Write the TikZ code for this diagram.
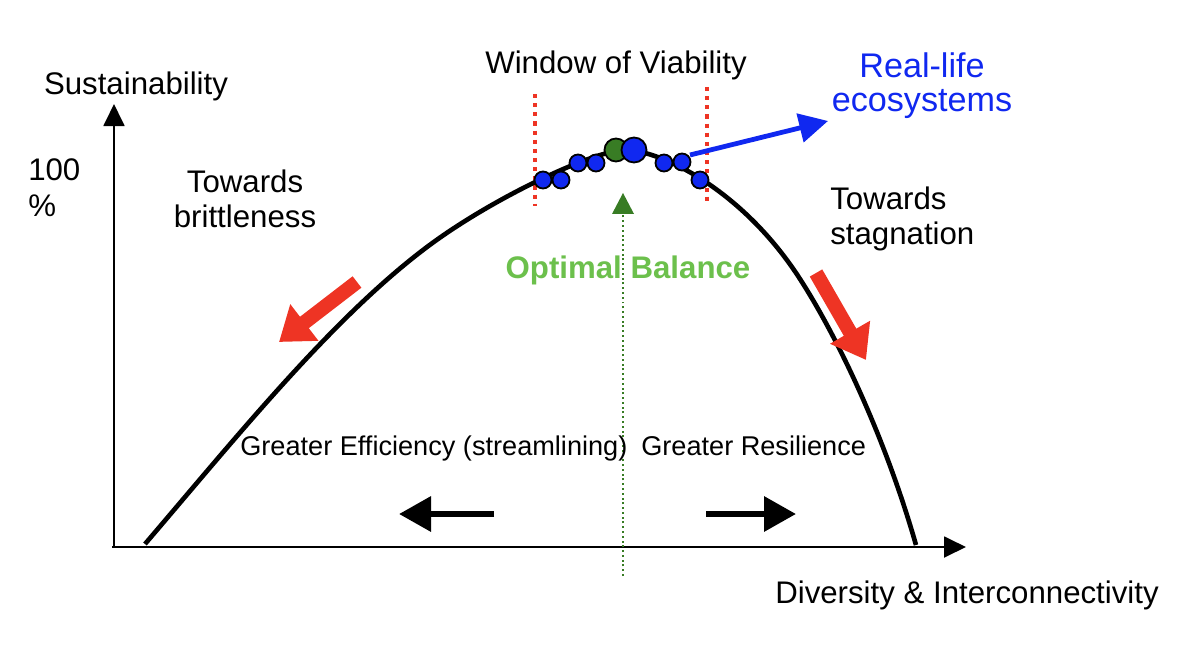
\documentclass[tikz,border=0pt]{standalone}
\usepackage{fontspec}
\setmainfont{Liberation Sans}
\usetikzlibrary{arrows.meta}
\definecolor{trendred}{RGB}{238,52,36}
\definecolor{ecoblue}{RGB}{16,40,240}
\definecolor{optgreen}{RGB}{56,124,36}
\definecolor{optlight}{RGB}{108,192,76}

\begin{document}
\begin{tikzpicture}[x=0.025cm,y=-0.025cm,
lbl/.style={font=\fontsize{22.2}{24.2}\selectfont,align=center,inner sep=0pt,anchor=base},
small/.style={lbl,font=\fontsize{19.3}{22}\selectfont,anchor=base west},
axis/.style={line width=1.8pt,-{Triangle[length=0.55cm,width=0.52cm]}},
eco/.style={draw=black,line width=1.3pt,fill=ecoblue},
window/.style={trendred,line width=3pt,dash pattern=on 3pt off 3.5pt},
fat/.style={trendred,line width=0.36cm,-{Triangle[length=0.8cm,width=1.1cm]}},
drift/.style={line width=0.16cm,-{Triangle[length=0.8cm,width=0.85cm]}}]
\useasboundingbox (0,0) rectangle (1200,649);
% axes
\coordinate (origin) at (114,547);
\draw[axis] (origin) ++(-2,0) -- (966,547);
\draw[axis] (origin) ++(0,1) -- (114,104);
\node[lbl] (ylab) at (136,95) {Sustainability};
\node[lbl,align=left,anchor=base west,font=\fontsize{22.2}{26.3}\selectfont] (full) at (28,217) {100\\\%};
\node[lbl,anchor=base west] (xlab) at (775,603) {Diversity \& Interconnectivity};
% window of viability
\draw[window] (535,94) -- (535,206);
\draw[window] (707,87) -- (707,204);
\node[lbl] (win) at (616,74) {Window of Viability};
% the curve
\coordinate (peak) at (625,150);
\draw[line width=3.3pt] (145,544) .. controls (239,434) and (333,317.5) .. (427,247)
  .. controls (493,197.5) and (595,150) .. (peak)
  .. controls (660,150) and (742,189) .. (800,279)
  .. controls (839,339.5) and (886,440) .. (916,545);
% optimal balance
\draw[optgreen,line width=1.4pt,dotted] (623,576) -- (623,212);
\fill[optgreen] (612,214) -- (634,214) -- (623,193) -- cycle;
\node[lbl,font=\fontsize{22.2}{24}\bfseries,text=optlight] (opt) at (628,278) {Optimal Balance};
% ecosystems on the curve
\foreach \x/\y in {543/180,561/180,578/163,596/163,664/163,682/162,700/180}
  \draw[eco] (\x,\y) circle (8.5);
\draw[eco,fill=optgreen] (616,150) circle (11.5);
\draw[eco] (634,150) circle (12.5);
\draw[ecoblue,line width=3.4pt,-{Triangle[length=0.72cm,width=0.72cm]}] (690,155) -- (828,121);
\node[lbl,font=\fontsize{24.3}{24.8}\selectfont,text=ecoblue] (real) at (922,112) {Real-life\\ecosystems};
% trends
\node[lbl] (brit) at (245,227) {Towards\\brittleness};
\node[lbl,align=left,anchor=base west] (stag) at (830,244) {Towards\\stagnation};
\draw[fat] (357,282) -- (279,342);
\draw[fat] (816,273) -- (866,360);
\node[small] (eff) at (240,455) {Greater Efficiency (streamlining)};
\node[small] (res) at (641,455) {Greater Resilience};
\draw[drift] (494,514) -- (399,514);
\draw[drift] (706,514) -- (796,514);
\end{tikzpicture}
\end{document}
